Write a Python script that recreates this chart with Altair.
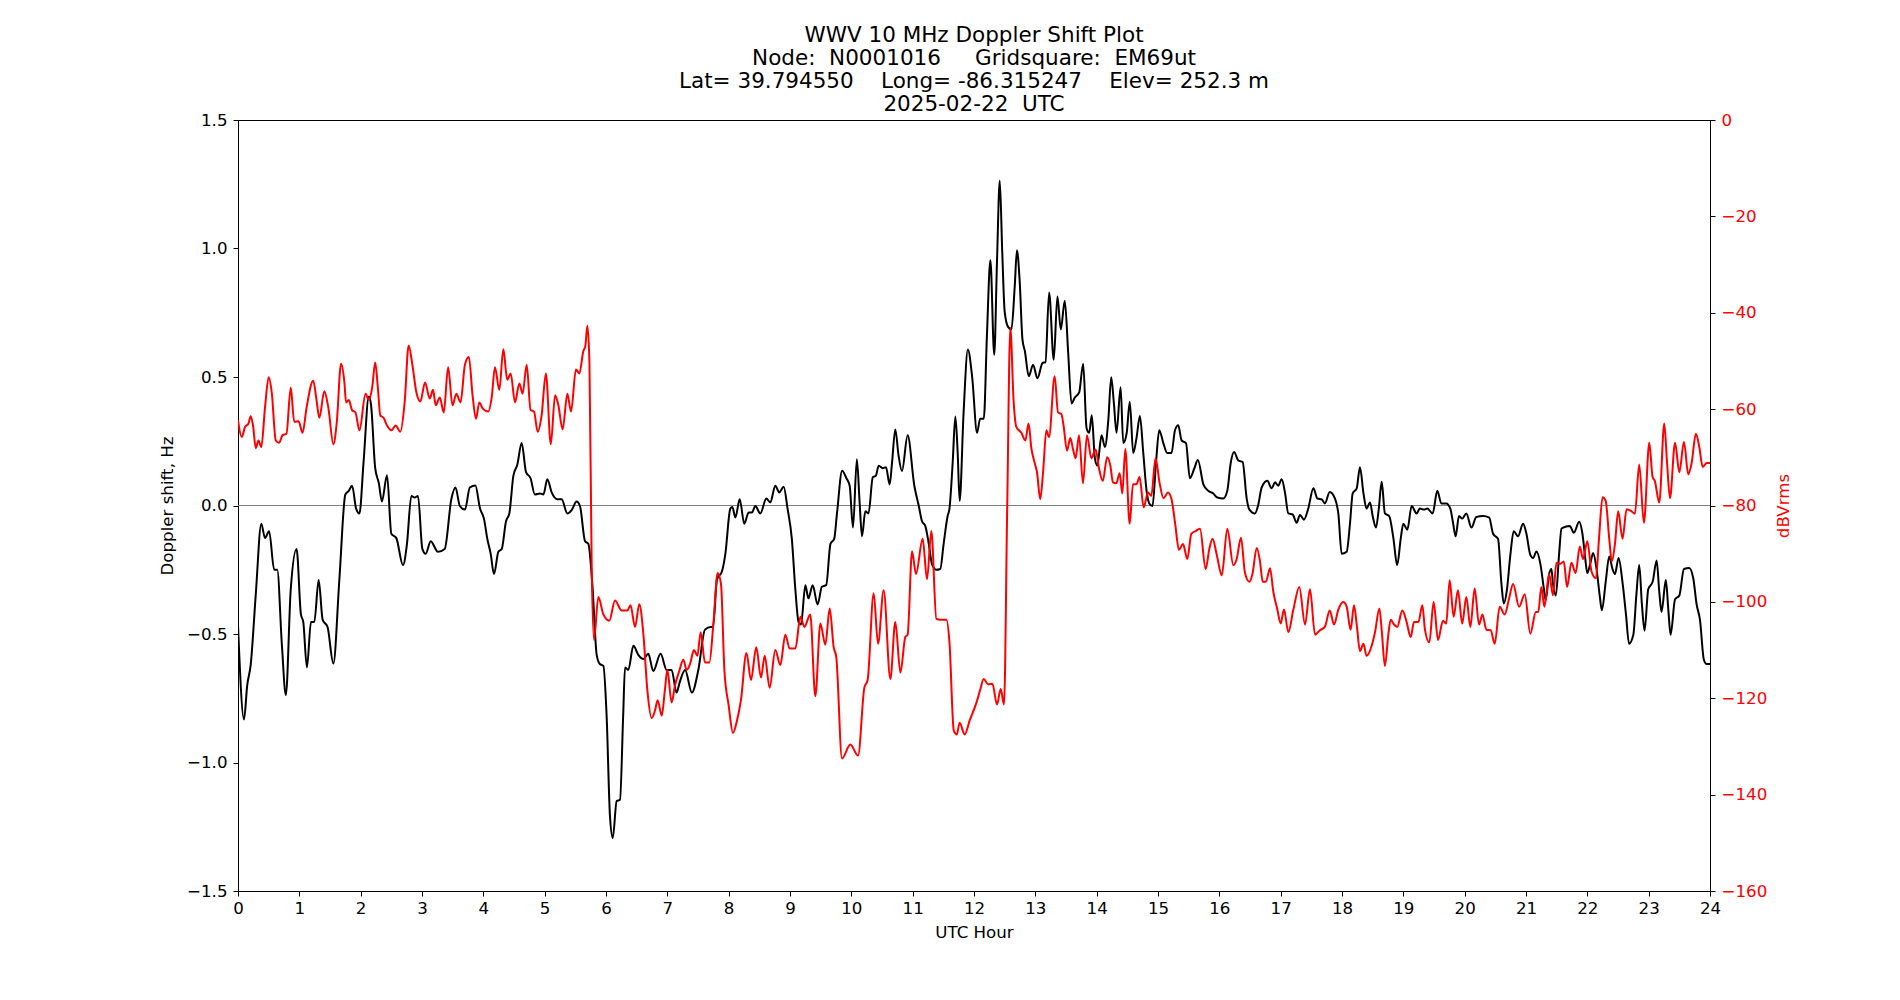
import altair as alt
import pandas as pd

# Doppler shift of the received carrier, Hz, against UTC hour
doppler_hours = [
    0, 0.098, 0.15, 0.207, 0.29, 0.38, 0.44, 0.507, 0.59, 0.64, 0.715, 0.78, 0.86, 0.955,
    1.026, 1.064, 1.124, 1.19, 1.244, 1.315, 1.38, 1.46, 1.555, 1.653, 1.75, 1.806, 1.86,
    1.926, 1.98, 2.046, 2.133, 2.17, 2.237, 2.297, 2.346, 2.43, 2.5, 2.58, 2.69, 2.755,
    2.826, 2.88, 2.935, 3.006, 3.06, 3.142, 3.26, 3.37, 3.48, 3.546, 3.617, 3.7, 3.78, 3.87,
    3.946, 4.01, 4.065, 4.12, 4.174, 4.245, 4.3, 4.37, 4.424, 4.49, 4.554, 4.625, 4.696,
    4.77, 4.84, 4.924, 4.98, 5.043, 5.114, 5.207, 5.277, 5.37, 5.44, 5.52, 5.576, 5.658,
    5.712, 5.777, 5.848, 5.9, 5.957, 6.01, 6.065, 6.11, 6.174, 6.228, 6.28, 6.31, 6.364,
    6.446, 6.527, 6.61, 6.69, 6.77, 6.89, 6.99, 7.07, 7.15, 7.2, 7.29, 7.4, 7.505, 7.614,
    7.707, 7.745, 7.81, 7.89, 7.946, 8.027, 8.06, 8.11, 8.18, 8.255, 8.326, 8.38, 8.435,
    8.516, 8.614, 8.68, 8.76, 8.826, 8.897, 8.96, 9.03, 9.087, 9.14, 9.18, 9.25, 9.3, 9.37,
    9.45, 9.52, 9.59, 9.66, 9.72, 9.766, 9.85, 9.92, 9.973, 10.027, 10.09, 10.136, 10.174,
    10.228, 10.28, 10.35, 10.4, 10.446, 10.516, 10.565, 10.625, 10.663, 10.717, 10.77,
    10.826, 10.918, 11.027, 11.1, 11.152, 11.207, 11.26, 11.315, 11.386, 11.45, 11.505,
    11.57, 11.6, 11.652, 11.696, 11.734, 11.766, 11.83, 11.9, 11.97, 12.05, 12.1, 12.16,
    12.21, 12.267, 12.33, 12.375, 12.42, 12.46, 12.5, 12.555, 12.61, 12.664, 12.7, 12.745,
    12.79, 12.83, 12.893, 12.963, 13.034, 13.116, 13.165, 13.225, 13.3, 13.36, 13.415,
    13.48, 13.535, 13.59, 13.644, 13.715, 13.78, 13.835, 13.878, 13.92, 13.97, 14.01,
    14.08, 14.134, 14.19, 14.237, 14.28, 14.324, 14.39, 14.434, 14.49, 14.54, 14.596,
    14.65, 14.705, 14.76, 14.814, 14.858, 14.91, 14.967, 15.02, 15.087, 15.15, 15.22,
    15.277, 15.33, 15.385, 15.456, 15.52, 15.593, 15.65, 15.74, 15.82, 15.9, 15.967,
    16.065, 16.13, 16.185, 16.24, 16.31, 16.38, 16.446, 16.49, 16.58, 16.636, 16.69,
    16.783, 16.853, 16.908, 16.96, 17.016, 17.07, 17.125, 17.196, 17.26, 17.315, 17.38,
    17.45, 17.533, 17.6, 17.67, 17.72, 17.8, 17.886, 17.94, 17.995, 18.076, 18.13, 18.174,
    18.24, 18.293, 18.35, 18.4, 18.457, 18.5, 18.554, 18.6, 18.647, 18.7, 18.77, 18.837,
    18.9, 18.957, 19.0, 19.065, 19.136, 19.217, 19.27, 19.337, 19.39, 19.478, 19.554,
    19.62, 19.7, 19.766, 19.81, 19.853, 19.907, 19.96, 20.027, 20.11, 20.19, 20.3, 20.4,
    20.463, 20.544, 20.6, 20.637, 20.69, 20.745, 20.8, 20.87, 20.952, 21.007, 21.07,
    21.116, 21.17, 21.235, 21.29, 21.32, 21.377, 21.415, 21.44, 21.486, 21.54, 21.578,
    21.65, 21.714, 21.78, 21.867, 21.92, 21.965, 22.0, 22.05, 22.095, 22.15, 22.204,
    22.237, 22.3, 22.357, 22.41, 22.45, 22.51, 22.575, 22.63, 22.68, 22.75, 22.8, 22.846,
    22.89, 22.933, 22.993, 23.066, 23.13, 23.173, 23.21, 23.28, 23.32, 23.358, 23.43,
    23.5, 23.575, 23.66, 23.727, 23.782, 23.836, 23.9, 23.946, 24.0,
]
doppler_hz = [
    -0.467, -0.833, -0.70, -0.62, -0.345, -0.071, -0.126, -0.10, -0.25, -0.25, -0.54,
    -0.738, -0.326, -0.169, -0.424, -0.453, -0.63, -0.453, -0.453, -0.29, -0.444, -0.473,
    -0.615, -0.287, 0.043, 0.057, 0.077, -0.012, -0.031, 0.165, 0.424, 0.39, 0.145, 0.086,
    0.016, 0.118, -0.11, -0.126, -0.232, -0.149, 0.037, 0.031, 0.037, -0.169, -0.188,
    -0.139, -0.18, -0.169, 0.027, 0.07, -0.002, -0.016, 0.07, 0.078,
    -0.012, -0.051, -0.13, -0.188, -0.267, -0.18, -0.169, -0.061, -0.031, 0.116, 0.159,
    0.243, 0.13, 0.106, 0.043, 0.047, 0.043, 0.102, 0.051, 0.024, 0.024, -0.031, -0.018,
    0.016, -0.002, -0.139, -0.149, -0.306, -0.581, -0.617, -0.624, -0.817, -1.21, -1.294,
    -1.15, -1.145, -0.817, -0.63, -0.64, -0.546, -0.581, -0.597, -0.577, -0.644, -0.577,
    -0.64, -0.64, -0.728, -0.689, -0.64, -0.728, -0.64, -0.483, -0.473,
    -0.473, -0.287, -0.257, -0.188, -0.012, -0.006, -0.047, 0.024, -0.071, -0.027, -0.027,
    -0.002, -0.031, 0.027, 0.012, 0.077, 0.051, 0.073, -0.012, -0.13, -0.326, -0.454,
    -0.463, -0.31, -0.361, -0.31, -0.385, -0.316, -0.31, -0.149, -0.13, -0.031, 0.135,
    0.106, 0.077, -0.086, 0.18, 0.008, -0.12, -0.022, -0.031, 0.11, 0.116, 0.155, 0.145,
    0.149, 0.082, 0.165, 0.296, 0.194, 0.134, 0.273, 0.077, -0.002, -0.061, -0.08, -0.145,
    -0.228, -0.25, -0.247, -0.149, -0.041, -0.012, 0.165, 0.346, 0.204, 0.018,
    0.36, 0.607, 0.5, 0.283, 0.338, 0.338, 0.656, 0.954, 0.587, 0.95, 1.264, 0.99, 0.754,
    0.695, 0.685, 0.852, 0.993, 0.872, 0.646, 0.6, 0.503, 0.548, 0.495, 0.554, 0.558,
    0.829, 0.567, 0.813, 0.685, 0.797, 0.597, 0.397, 0.42, 0.44, 0.552, 0.302, 0.283,
    0.351, 0.185, 0.155, 0.273, 0.228, 0.332, 0.499, 0.4, 0.283, 0.46, 0.243, 0.283,
    0.404, 0.204, 0.263, 0.348, 0.204, 0.057, 0.008, -0.002, 0.165, 0.293, 0.243, 0.204,
    0.204, 0.293, 0.312, 0.253, 0.243, 0.106, 0.145, 0.177, 0.082, 0.057, 0.047, 0.031,
    0.027, 0.057, 0.165, 0.208, 0.175, 0.169, 0.027, -0.016, -0.031, 0.004, 0.07, 0.096,
    0.067, 0.09, 0.077, 0.102, 0.051, -0.031, -0.035, -0.067, -0.037, -0.055, -0.012,
    0.067, 0.027, 0.024, 0.008, 0.053, 0.027, -0.031, -0.188, -0.18, -0.071, 0.047, 0.067,
    0.149, 0.047, -0.012, 0.012, -0.041, -0.086, -0.012, 0.092, -0.031, -0.041, -0.126,
    -0.232, -0.13, -0.071, -0.094, -0.002, -0.031, -0.012, -0.016, -0.012, -0.031, 0.057,
    0.008, 0.008, -0.012, -0.067, -0.12, -0.041, -0.051, -0.031, -0.086, -0.045, -0.041,
    -0.047, -0.11, -0.13, -0.306, -0.381, -0.326, -0.192, -0.1, -0.12, -0.071, -0.11,
    -0.192, -0.204, -0.179, -0.228, -0.322, -0.369, -0.267, -0.247, -0.306, -0.35, -0.188,
    -0.09, -0.082, -0.08, -0.106, -0.063, -0.11, -0.204, -0.263, -0.224, -0.185, -0.247,
    -0.355, -0.408, -0.296, -0.198, -0.247, -0.267, -0.204, -0.302, -0.424, -0.538,
    -0.503, -0.346, -0.232, -0.385, -0.487, -0.326, -0.296, -0.214, -0.336, -0.414, -0.29,
    -0.404, -0.503, -0.365, -0.35, -0.247, -0.243, -0.283, -0.385, -0.444, -0.6, -0.617,
    -0.617,
]

# Received signal level, dBVrms, against UTC hour
level_hours = [
    0, 0.06, 0.115, 0.17, 0.207, 0.245, 0.29, 0.333, 0.38, 0.44, 0.5, 0.55, 0.616, 0.67,
    0.726, 0.79, 0.86, 0.916, 0.987, 1.053, 1.118, 1.227, 1.28, 1.326, 1.407, 1.473, 1.555,
    1.61, 1.68, 1.735, 1.762, 1.806, 1.86, 1.915, 1.98, 2.08, 2.133, 2.19, 2.237, 2.28,
    2.32, 2.373, 2.43, 2.5, 2.57, 2.646, 2.717, 2.782, 2.843, 2.908, 2.973, 3.05, 3.126,
    3.18, 3.224, 3.29, 3.355, 3.426, 3.497, 3.56, 3.628, 3.7, 3.764, 3.824, 3.88, 3.935,
    3.99, 4.08, 4.136, 4.19, 4.26, 4.326, 4.39, 4.446, 4.516, 4.587, 4.64, 4.707, 4.77,
    4.826, 4.886, 4.95, 5.02, 5.1, 5.17, 5.223, 5.293, 5.37, 5.43, 5.51, 5.565, 5.63,
    5.663, 5.696, 5.73, 5.766, 5.804, 5.875, 5.957, 6.054, 6.147, 6.255, 6.348, 6.4, 6.473,
    6.543, 6.61, 6.674, 6.745, 6.8, 6.842, 6.908, 6.96, 7.0, 7.07, 7.125, 7.196, 7.26,
    7.315, 7.37, 7.435, 7.49, 7.543, 7.614, 7.685, 7.75, 7.82, 7.875, 7.93, 8.0, 8.07,
    8.136, 8.2, 8.29, 8.364, 8.45, 8.527, 8.587, 8.668, 8.76, 8.842, 8.924, 8.995, 9.087,
    9.17, 9.234, 9.33, 9.413, 9.495, 9.576, 9.647, 9.712, 9.755, 9.848, 9.984, 10.11,
    10.212, 10.266, 10.364, 10.435, 10.527, 10.636, 10.717, 10.8, 10.88, 10.918, 10.99,
    11.054, 11.163, 11.234, 11.304, 11.386, 11.45, 11.55, 11.6, 11.67, 11.72, 11.766,
    11.848, 11.93, 12.04, 12.1, 12.158, 12.23, 12.3, 12.375, 12.435, 12.49, 12.54, 12.592,
    12.647, 12.69, 12.772, 12.837, 12.89, 12.935, 12.99, 13.027, 13.08, 13.125, 13.18,
    13.223, 13.315, 13.37, 13.424, 13.46, 13.516, 13.57, 13.614, 13.658, 13.712, 13.777,
    13.842, 13.913, 13.984, 14.038, 14.1, 14.17, 14.223, 14.266, 14.32, 14.375, 14.418,
    14.467, 14.538, 14.592, 14.647, 14.7, 14.766, 14.837, 14.89, 14.96, 15.027, 15.09,
    15.163, 15.217, 15.28, 15.342, 15.408, 15.478, 15.543, 15.614, 15.685, 15.777, 15.837,
    15.89, 15.956, 16.04, 16.13, 16.228, 16.283, 16.353, 16.418, 16.49, 16.54, 16.61,
    16.663, 16.707, 16.76, 16.826, 16.88, 16.946, 17.0, 17.054, 17.125, 17.207, 17.304,
    17.397, 17.478, 17.56, 17.64, 17.72, 17.8, 17.87, 17.94, 18.02, 18.076, 18.14, 18.196,
    18.24, 18.293, 18.35, 18.4, 18.484, 18.538, 18.61, 18.647, 18.7, 18.755, 18.793,
    18.848, 18.9, 18.984, 19.054, 19.12, 19.174, 19.245, 19.31, 19.353, 19.424, 19.494,
    19.565, 19.646, 19.7, 19.755, 19.82, 19.89, 19.96, 20.027, 20.093, 20.163, 20.234,
    20.29, 20.354, 20.424, 20.49, 20.571, 20.653, 20.724, 20.79, 20.887, 20.98, 21.07,
    21.16, 21.2, 21.25, 21.3, 21.377, 21.44, 21.497, 21.56, 21.616, 21.67, 21.74, 21.81,
    21.877, 21.93, 22.0, 22.068, 22.14, 22.19, 22.248, 22.3, 22.357, 22.4, 22.45, 22.503,
    22.574, 22.64, 22.72, 22.776, 22.846, 22.922, 23.01, 23.064, 23.1, 23.173, 23.254,
    23.3, 23.347, 23.43, 23.5, 23.575, 23.646, 23.7, 23.77, 23.826, 23.88, 23.946, 24.0,
]
level_db = [
    -62.3, -65.8, -63.7, -63.0, -61.5, -63.4, -68.1, -66.5, -67.9, -59.7, -53.4, -56.5,
    -66.5, -67.0, -65.4, -65.1, -55.5, -62.6, -62.5, -64.9, -59.7, -54.1, -58.1, -61.8,
    -56.3, -59.7, -67.3, -62.8, -50.6, -54.5, -58.6, -58.1, -60.2, -60.7, -64.4, -56.8,
    -58.1, -55.3, -50.3, -55.5, -61.3, -61.8, -63.4, -64.4, -63.4, -64.7, -58.6, -46.8,
    -50.8, -56.5, -58.4, -54.5, -57.8, -56.0, -59.2, -57.6, -60.7, -51.3, -59.2, -56.8,
    -58.6, -50.8, -49.2, -57.1, -62.0, -58.6, -59.9, -60.5, -57.6, -51.3, -56.0, -47.6,
    -53.9, -52.6, -58.6, -54.7, -56.8, -50.8, -60.2, -60.5, -64.7, -61.3, -52.6, -67.3,
    -57.1, -59.2, -64.2, -56.8, -60.5, -51.8, -52.6, -48.0, -46.9, -42.7, -50.3, -92.1,
    -107.9, -99.0, -102.6, -103.9, -99.7, -101.8, -101.8, -100.7, -105.2, -100.5, -106.8,
    -118.3, -124.1, -122.5, -120.4, -123.6, -118.3, -114.1, -120.9, -117.3, -114.3,
    -112.0, -114.1, -112.9, -110.0, -111.2, -106.3, -112.6, -112.6, -104.7, -94.0, -96.3,
    -114.1, -121.5, -127.2, -124.6, -120.4, -110.6, -116.2, -109.4, -115.7, -111.2,
    -117.8, -110.0, -113.1, -106.8, -109.7, -109.7, -103.1, -105.2, -102.6, -119.6,
    -104.5, -108.9, -101.4, -109.4, -111.5, -132.5, -129.6, -131.9, -117.8, -116.2,
    -98.2, -108.7, -97.6, -116.0, -104.2, -114.7, -107.3, -106.8, -89.5, -94.2, -86.9,
    -95.3, -85.3, -103.5, -103.7, -103.7, -108.4, -126.7, -127.5, -125.1, -127.5, -124.6,
    -120.9, -118.3, -116.0, -117.1, -117.0, -121.3, -118.1, -121.3, -81.7, -43.1, -58.6,
    -63.7, -64.9, -66.5, -63.0, -68.1, -71.2, -73.1, -78.7, -73.3, -64.4, -65.8, -53.2,
    -60.7, -61.0, -63.4, -68.6, -66.0, -68.3, -70.2, -65.4, -75.4, -65.4, -70.2, -68.4,
    -72.3, -74.9, -70.0, -71.7, -75.2, -75.4, -73.3, -77.5, -68.3, -83.8, -75.6, -75.6,
    -74.1, -80.4, -77.3, -78.0, -70.2, -75.4, -78.5, -77.3, -78.5, -83.8, -89.2, -88.0,
    -91.1, -85.9, -85.3, -84.8, -93.2, -89.0, -86.9, -90.1, -94.5, -84.8, -92.4, -91.1,
    -86.7, -94.0, -95.8, -94.2, -88.8, -91.6, -95.8, -95.8, -93.0, -97.9, -101.6, -104.5,
    -101.6, -106.3, -101.6, -96.9, -104.7, -97.4, -106.8, -105.9, -105.2, -101.8, -104.7,
    -101.6, -100.0, -101.0, -105.8, -100.7, -104.7, -110.2, -108.7, -111.2, -109.1,
    -106.3, -101.4, -105.8, -113.3, -106.8, -103.7, -104.7, -105.2, -101.8, -104.2,
    -107.3, -104.2, -104.2, -100.7, -105.8, -108.4, -100.0, -107.9, -103.9, -104.5,
    -95.5, -103.1, -97.6, -104.5, -99.0, -105.2, -97.2, -104.7, -102.6, -105.8, -105.9,
    -108.7, -101.0, -102.6, -99.3, -96.3, -101.0, -98.4, -106.6, -102.1, -102.1, -96.9,
    -101.0, -94.2, -98.6, -91.9, -92.1, -91.6, -96.9, -91.9, -94.0, -88.5, -91.1, -87.4,
    -93.7, -95.1, -86.9, -78.3, -79.1, -86.9, -91.6, -88.0, -81.2, -86.9, -80.8, -81.2,
    -81.7, -71.5, -83.6, -67.0, -74.1, -74.9, -79.4, -63.0, -71.2, -78.5, -67.0, -73.1,
    -66.8, -73.5, -71.2, -65.1, -67.9, -72.0, -71.2, -71.2,
]

hour_ticks = list(range(0, 25))
doppler_ticks = [-1.5, -1.0, -0.5, 0.0, 0.5, 1.0, 1.5]
level_ticks = [0, -20, -40, -60, -80, -100, -120, -140, -160]

# runs of spaces are kept with no-break spaces so SVG does not collapse them
NB = "\u00a0"
title_lines = [
    "WWV 10 MHz Doppler Shift Plot",
    f"Node:{NB}{NB}N0001016{NB}{NB}{NB}{NB}{NB}Gridsquare:{NB}{NB}EM69ut",
    f"Lat= 39.794550{NB}{NB}{NB}{NB}Long= -86.315247{NB}{NB}{NB}{NB}Elev= 252.3 m",
    f"2025-02-22{NB}{NB}UTC",
]

W, H = 1472, 771
FONT = "DejaVu Sans"
FS = 16.67

doppler_df = pd.DataFrame({"hour": doppler_hours, "shift": doppler_hz})
level_df = pd.DataFrame({"hour": level_hours, "level": level_db})
zero_df = pd.DataFrame({"shift": [0.0]})

x_scale = alt.Scale(domain=[0, 24], nice=False, zero=False)
doppler_scale = alt.Scale(domain=[-1.5, 1.5], nice=False, zero=False)
level_scale = alt.Scale(domain=[-160, 0], nice=False, zero=False)

hour_axis = alt.Axis(
    values=hour_ticks,
    format="d",
    title="UTC Hour",
    tickSize=5,
    labelPadding=4,
    labelFlush=False,
    titleX=W / 2,
    titleY=41,
    titleBaseline="middle",
    titleAlign="center",
)
doppler_axis = alt.Axis(
    orient="left",
    values=doppler_ticks,
    format=".1f",
    title="Doppler shift, Hz",
    tickSize=5,
    labelPadding=6,
    labelFlush=False,
    titleAngle=270,
    titleX=-71,
    titleY=H / 2,
    titleAlign="center",
    titleBaseline="middle",
)
level_axis = alt.Axis(
    orient="right",
    values=level_ticks,
    format="d",
    title="dBVrms",
    tickSize=5,
    labelPadding=6,
    labelFlush=False,
    labelColor="red",
    titleColor="red",
    titleAngle=270,
    titleX=73,
    titleY=H / 2,
    titleAlign="center",
    titleBaseline="middle",
)

zero_line = alt.Chart(zero_df).mark_rule(color="#808080", strokeWidth=1).encode(
    y=alt.Y("shift:Q", scale=doppler_scale, axis=doppler_axis)
)

doppler_line = alt.Chart(doppler_df).mark_line(
    color="black", strokeWidth=2, interpolate="monotone", clip=True
).encode(
    x=alt.X("hour:Q", scale=x_scale, axis=hour_axis),
    y=alt.Y("shift:Q", scale=doppler_scale, axis=doppler_axis),
)

level_line = alt.Chart(level_df).mark_line(
    color="red", strokeWidth=2, interpolate="monotone", clip=True
).encode(
    x=alt.X("hour:Q", scale=x_scale, axis=hour_axis),
    y=alt.Y("level:Q", scale=level_scale, axis=level_axis),
)

chart = (
    alt.layer(alt.layer(zero_line, doppler_line), level_line)
    .resolve_scale(y="independent")
    .properties(
        width=W,
        height=H,
        autosize=alt.AutoSizeParams(type="none"),
        padding={"left": 238, "top": 120, "right": 190, "bottom": 109},
        title=alt.TitleParams(
            text=title_lines,
            font=FONT,
            fontSize=21.5,
            fontWeight="normal",
            color="black",
            lineHeight=23,
            anchor="middle",
            offset=-3,
        ),
    )
    .configure(background="white")
    .configure_view(stroke="black", strokeWidth=1)
    .configure_axis(
        grid=False,
        labelFont=FONT,
        labelFontSize=FS,
        labelColor="black",
        titleFont=FONT,
        titleFontSize=FS,
        titleFontWeight="normal",
        titleColor="black",
        tickColor="black",
        domainColor="black",
        domainWidth=1,
        tickWidth=1,
    )
)

chart.save("out.html", embed_options={"renderer": "svg", "actions": False})
